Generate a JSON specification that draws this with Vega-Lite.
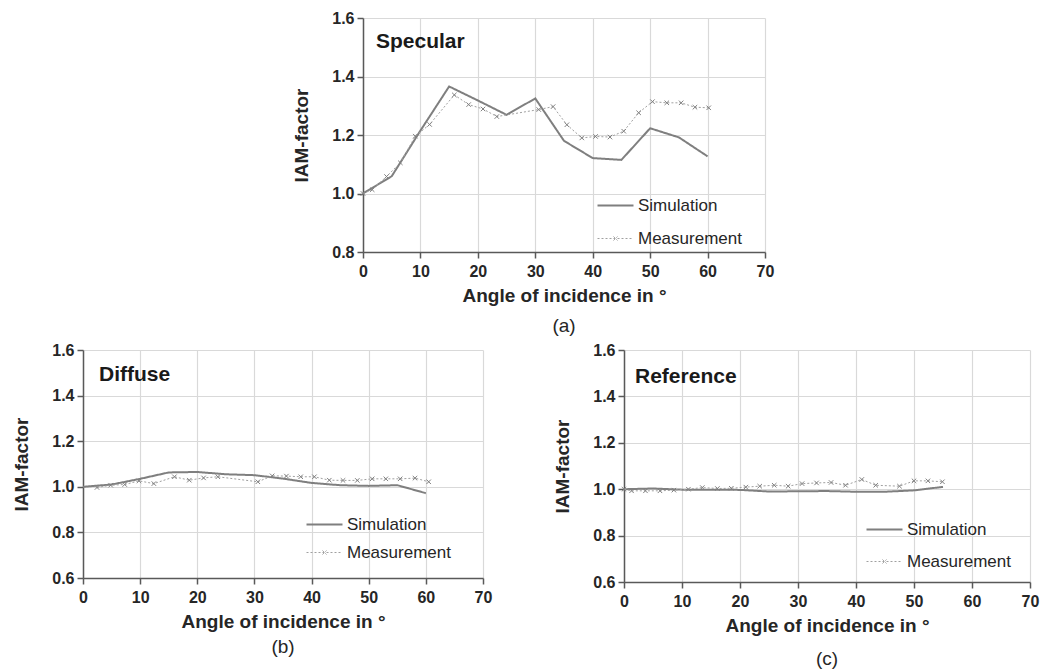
{
  "$schema": "https://vega.github.io/schema/vega-lite/v6.json",
  "background": "white",
  "padding": {"left": 12, "top": 10, "right": 2, "bottom": 2},
  "data": {"values": [
    {"panel":"a","series":"Simulation","angle":0,"iam":1.0},
    {"panel":"a","series":"Simulation","angle":5,"iam":1.059},
    {"panel":"a","series":"Simulation","angle":10,"iam":1.215},
    {"panel":"a","series":"Simulation","angle":15,"iam":1.366},
    {"panel":"a","series":"Simulation","angle":20,"iam":1.318},
    {"panel":"a","series":"Simulation","angle":25,"iam":1.269},
    {"panel":"a","series":"Simulation","angle":30,"iam":1.325},
    {"panel":"a","series":"Simulation","angle":35,"iam":1.18},
    {"panel":"a","series":"Simulation","angle":40,"iam":1.121},
    {"panel":"a","series":"Simulation","angle":45,"iam":1.115},
    {"panel":"a","series":"Simulation","angle":50,"iam":1.223},
    {"panel":"a","series":"Simulation","angle":55,"iam":1.192},
    {"panel":"a","series":"Simulation","angle":60,"iam":1.127},
    {"panel":"a","series":"Measurement","angle":0,"iam":1.0},
    {"panel":"a","series":"Measurement","angle":1.6,"iam":1.013},
    {"panel":"a","series":"Measurement","angle":4.1,"iam":1.058},
    {"panel":"a","series":"Measurement","angle":6.5,"iam":1.105},
    {"panel":"a","series":"Measurement","angle":9.1,"iam":1.196},
    {"panel":"a","series":"Measurement","angle":11.6,"iam":1.236},
    {"panel":"a","series":"Measurement","angle":15.9,"iam":1.337},
    {"panel":"a","series":"Measurement","angle":18.4,"iam":1.304},
    {"panel":"a","series":"Measurement","angle":20.9,"iam":1.289},
    {"panel":"a","series":"Measurement","angle":23.3,"iam":1.263},
    {"panel":"a","series":"Measurement","angle":30.6,"iam":1.287},
    {"panel":"a","series":"Measurement","angle":33.1,"iam":1.297},
    {"panel":"a","series":"Measurement","angle":35.5,"iam":1.235},
    {"panel":"a","series":"Measurement","angle":38.1,"iam":1.19},
    {"panel":"a","series":"Measurement","angle":40.5,"iam":1.195},
    {"panel":"a","series":"Measurement","angle":43.0,"iam":1.193},
    {"panel":"a","series":"Measurement","angle":45.4,"iam":1.213},
    {"panel":"a","series":"Measurement","angle":48.0,"iam":1.276},
    {"panel":"a","series":"Measurement","angle":50.4,"iam":1.314},
    {"panel":"a","series":"Measurement","angle":52.9,"iam":1.31},
    {"panel":"a","series":"Measurement","angle":55.4,"iam":1.31},
    {"panel":"a","series":"Measurement","angle":57.8,"iam":1.295},
    {"panel":"a","series":"Measurement","angle":60.2,"iam":1.293},
    {"panel":"b","series":"Simulation","angle":0,"iam":1.0},
    {"panel":"b","series":"Simulation","angle":5,"iam":1.01},
    {"panel":"b","series":"Simulation","angle":10,"iam":1.035},
    {"panel":"b","series":"Simulation","angle":15,"iam":1.063},
    {"panel":"b","series":"Simulation","angle":20,"iam":1.065},
    {"panel":"b","series":"Simulation","angle":25,"iam":1.055},
    {"panel":"b","series":"Simulation","angle":30,"iam":1.051},
    {"panel":"b","series":"Simulation","angle":35,"iam":1.036},
    {"panel":"b","series":"Simulation","angle":40,"iam":1.017},
    {"panel":"b","series":"Simulation","angle":45,"iam":1.007},
    {"panel":"b","series":"Simulation","angle":50,"iam":1.004},
    {"panel":"b","series":"Simulation","angle":55,"iam":1.007},
    {"panel":"b","series":"Simulation","angle":60,"iam":0.972},
    {"panel":"b","series":"Measurement","angle":2.45,"iam":0.997},
    {"panel":"b","series":"Measurement","angle":4.84,"iam":1.007},
    {"panel":"b","series":"Measurement","angle":7.3,"iam":1.01},
    {"panel":"b","series":"Measurement","angle":9.8,"iam":1.026},
    {"panel":"b","series":"Measurement","angle":12.4,"iam":1.014},
    {"panel":"b","series":"Measurement","angle":16.0,"iam":1.044},
    {"panel":"b","series":"Measurement","angle":18.6,"iam":1.029},
    {"panel":"b","series":"Measurement","angle":21.1,"iam":1.039},
    {"panel":"b","series":"Measurement","angle":23.6,"iam":1.044},
    {"panel":"b","series":"Measurement","angle":30.6,"iam":1.022},
    {"panel":"b","series":"Measurement","angle":33.1,"iam":1.048},
    {"panel":"b","series":"Measurement","angle":35.6,"iam":1.047},
    {"panel":"b","series":"Measurement","angle":38.1,"iam":1.044},
    {"panel":"b","series":"Measurement","angle":40.5,"iam":1.044},
    {"panel":"b","series":"Measurement","angle":43.1,"iam":1.029},
    {"panel":"b","series":"Measurement","angle":45.5,"iam":1.028},
    {"panel":"b","series":"Measurement","angle":48.0,"iam":1.028},
    {"panel":"b","series":"Measurement","angle":50.6,"iam":1.035},
    {"panel":"b","series":"Measurement","angle":53.0,"iam":1.035},
    {"panel":"b","series":"Measurement","angle":55.5,"iam":1.035},
    {"panel":"b","series":"Measurement","angle":58.1,"iam":1.038},
    {"panel":"b","series":"Measurement","angle":60.5,"iam":1.022},
    {"panel":"c","series":"Simulation","angle":0,"iam":1.0},
    {"panel":"c","series":"Simulation","angle":5,"iam":1.003},
    {"panel":"c","series":"Simulation","angle":10,"iam":0.998},
    {"panel":"c","series":"Simulation","angle":15,"iam":0.998},
    {"panel":"c","series":"Simulation","angle":20,"iam":0.997},
    {"panel":"c","series":"Simulation","angle":25,"iam":0.99},
    {"panel":"c","series":"Simulation","angle":30,"iam":0.991},
    {"panel":"c","series":"Simulation","angle":35,"iam":0.992},
    {"panel":"c","series":"Simulation","angle":40,"iam":0.989},
    {"panel":"c","series":"Simulation","angle":45,"iam":0.989},
    {"panel":"c","series":"Simulation","angle":50,"iam":0.995},
    {"panel":"c","series":"Simulation","angle":55,"iam":1.01},
    {"panel":"c","series":"Measurement","angle":0,"iam":1.0},
    {"panel":"c","series":"Measurement","angle":1.3,"iam":0.993},
    {"panel":"c","series":"Measurement","angle":3.7,"iam":0.993},
    {"panel":"c","series":"Measurement","angle":6.2,"iam":0.993},
    {"panel":"c","series":"Measurement","angle":8.6,"iam":0.996},
    {"panel":"c","series":"Measurement","angle":11.1,"iam":1.0},
    {"panel":"c","series":"Measurement","angle":13.5,"iam":1.007},
    {"panel":"c","series":"Measurement","angle":16.1,"iam":1.003},
    {"panel":"c","series":"Measurement","angle":18.5,"iam":1.004},
    {"panel":"c","series":"Measurement","angle":21.0,"iam":1.009},
    {"panel":"c","series":"Measurement","angle":23.4,"iam":1.013},
    {"panel":"c","series":"Measurement","angle":25.9,"iam":1.017},
    {"panel":"c","series":"Measurement","angle":28.3,"iam":1.013},
    {"panel":"c","series":"Measurement","angle":30.7,"iam":1.024},
    {"panel":"c","series":"Measurement","angle":33.2,"iam":1.027},
    {"panel":"c","series":"Measurement","angle":35.7,"iam":1.029},
    {"panel":"c","series":"Measurement","angle":38.2,"iam":1.017},
    {"panel":"c","series":"Measurement","angle":41.0,"iam":1.042},
    {"panel":"c","series":"Measurement","angle":43.4,"iam":1.017},
    {"panel":"c","series":"Measurement","angle":47.5,"iam":1.013},
    {"panel":"c","series":"Measurement","angle":50.0,"iam":1.036},
    {"panel":"c","series":"Measurement","angle":52.4,"iam":1.036},
    {"panel":"c","series":"Measurement","angle":54.9,"iam":1.032}
  ]},
  "spacing": 6,
  "resolve": {"scale": {"color": "independent", "strokeDash": "independent", "strokeWidth": "independent"}, "legend": {"color": "independent"}},
  "vconcat": [
    {
      "spacing": 0,
      "resolve": {"scale": {"color": "independent", "strokeDash": "independent", "strokeWidth": "independent"}, "legend": {"color": "independent"}},
      "hconcat": [
        {
          "width": 209, "height": 1,
          "data": {"values": []},
          "mark": {"type": "point", "opacity": 0}
        },
        {
          "width": 402, "height": 234,
          "title": {"text": "(a)", "orient": "bottom", "anchor": "middle", "frame": "group", "fontSize": 19, "fontWeight": "normal", "color": "#262626", "offset": 12},
          "transform": [{"filter": "datum.panel === 'a'"}],
          "layer": [
            {
              "mark": {"type": "line", "interpolate": "linear"},
              "encoding": {
                "x": {"field": "angle", "type": "quantitative", "scale": {"domain": [0, 70], "nice": false}, "axis": {"values": [0,10,20,30,40,50,60,70], "title": "Angle of incidence in °", "labelFlush": false}},
                "y": {"field": "iam", "type": "quantitative", "scale": {"domain": [0.8, 1.6], "nice": false, "zero": false}, "axis": {"values": [0.8,1.0,1.2,1.4,1.6], "format": ".1f", "title": "IAM-factor", "labelFlush": false}},
                "color": {"field": "series", "type": "nominal", "scale": {"domain": ["Simulation", "Measurement"], "range": ["#7f7f7f", "#a0a0a0"]},
                  "legend": {"title": null, "orient": "none", "legendX": 244, "legendY": 179, "rowPadding": 15, "symbolType": "M-3.6,0L3.6,0", "symbolSize": 100, "symbolStrokeWidth": 2, "labelOffset": 14, "padding": 0,
                    "encode": {"symbols": {"update": {
                      "shape": {"signal": "datum.value === 'Measurement' ? 'M-3.6,0L3.6,0M-0.4,-0.4L0.4,0.4M-0.4,0.4L0.4,-0.4' : 'M-3.6,0L3.6,0'"},
                      "strokeDash": {"signal": "datum.value === 'Measurement' ? [2,2] : [1,0]"},
                      "strokeWidth": {"signal": "datum.value === 'Measurement' ? 1 : 2"}}}}}},
                "strokeDash": {"field": "series", "type": "nominal", "scale": {"domain": ["Simulation", "Measurement"], "range": [[1,0],[2,2]]}, "legend": null},
                "strokeWidth": {"field": "series", "type": "nominal", "scale": {"domain": ["Simulation", "Measurement"], "range": [2, 1]}, "legend": null}
              }
            },
            {
              "transform": [{"filter": "datum.series === 'Measurement'"}],
              "mark": {"type": "point", "shape": "M-1,-1L1,1M-1,1L1,-1", "filled": false, "stroke": "#808080", "strokeWidth": 1, "size": 20, "opacity": 1},
              "encoding": {
                "x": {"field": "angle", "type": "quantitative"},
                "y": {"field": "iam", "type": "quantitative"}
              }
            },
            {
              "data": {"values": [{"label": "Specular"}]},
              "mark": {"type": "text", "align": "left", "baseline": "middle", "fontSize": 21, "fontWeight": "bold", "color": "#1a1a1a"},
              "encoding": {"x": {"datum": 2.26}, "y": {"datum": 1.518}, "text": {"field": "label"}}
            }
          ]
        }
      ]
    },
    {
      "spacing": 61,
      "resolve": {"scale": {"color": "independent", "strokeDash": "independent", "strokeWidth": "independent"}, "legend": {"color": "independent"}},
      "hconcat": [
        {
          "width": 400, "height": 228,
          "title": {"text": "(b)", "orient": "bottom", "anchor": "middle", "frame": "group", "fontSize": 19, "fontWeight": "normal", "color": "#262626", "offset": 7},
          "transform": [{"filter": "datum.panel === 'b'"}],
          "layer": [
            {
              "mark": {"type": "line", "interpolate": "linear"},
              "encoding": {
                "x": {"field": "angle", "type": "quantitative", "scale": {"domain": [0, 70], "nice": false}, "axis": {"values": [0,10,20,30,40,50,60,70], "title": "Angle of incidence in °", "labelFlush": false}},
                "y": {"field": "iam", "type": "quantitative", "scale": {"domain": [0.6, 1.6], "nice": false, "zero": false}, "axis": {"values": [0.6,0.8,1.0,1.2,1.4,1.6], "format": ".1f", "title": "IAM-factor", "labelFlush": false}},
                "color": {"field": "series", "type": "nominal", "scale": {"domain": ["Simulation", "Measurement"], "range": ["#7f7f7f", "#a0a0a0"]},
                  "legend": {"title": null, "orient": "none", "legendX": 233, "legendY": 166, "rowPadding": 10, "symbolType": "M-3.6,0L3.6,0", "symbolSize": 100, "symbolStrokeWidth": 2, "labelOffset": 14, "padding": 0,
                    "encode": {"symbols": {"update": {
                      "shape": {"signal": "datum.value === 'Measurement' ? 'M-3.6,0L3.6,0M-0.4,-0.4L0.4,0.4M-0.4,0.4L0.4,-0.4' : 'M-3.6,0L3.6,0'"},
                      "strokeDash": {"signal": "datum.value === 'Measurement' ? [2,2] : [1,0]"},
                      "strokeWidth": {"signal": "datum.value === 'Measurement' ? 1 : 2"}}}}}},
                "strokeDash": {"field": "series", "type": "nominal", "scale": {"domain": ["Simulation", "Measurement"], "range": [[1,0],[2,2]]}, "legend": null},
                "strokeWidth": {"field": "series", "type": "nominal", "scale": {"domain": ["Simulation", "Measurement"], "range": [2, 1]}, "legend": null}
              }
            },
            {
              "transform": [{"filter": "datum.series === 'Measurement'"}],
              "mark": {"type": "point", "shape": "M-1,-1L1,1M-1,1L1,-1", "filled": false, "stroke": "#808080", "strokeWidth": 1, "size": 20, "opacity": 1},
              "encoding": {
                "x": {"field": "angle", "type": "quantitative"},
                "y": {"field": "iam", "type": "quantitative"}
              }
            },
            {
              "data": {"values": [{"label": "Diffuse"}]},
              "mark": {"type": "text", "align": "left", "baseline": "middle", "fontSize": 21, "fontWeight": "bold", "color": "#1a1a1a"},
              "encoding": {"x": {"datum": 2.8}, "y": {"datum": 1.49}, "text": {"field": "label"}}
            }
          ]
        },
        {
          "width": 406, "height": 232,
          "title": {"text": "(c)", "orient": "bottom", "anchor": "middle", "frame": "group", "fontSize": 19, "fontWeight": "normal", "color": "#262626", "offset": 15},
          "transform": [{"filter": "datum.panel === 'c'"}],
          "layer": [
            {
              "mark": {"type": "line", "interpolate": "linear"},
              "encoding": {
                "x": {"field": "angle", "type": "quantitative", "scale": {"domain": [0, 70], "nice": false}, "axis": {"values": [0,10,20,30,40,50,60,70], "title": "Angle of incidence in °", "labelFlush": false}},
                "y": {"field": "iam", "type": "quantitative", "scale": {"domain": [0.6, 1.6], "nice": false, "zero": false}, "axis": {"values": [0.6,0.8,1.0,1.2,1.4,1.6], "format": ".1f", "title": "IAM-factor", "labelFlush": false}},
                "color": {"field": "series", "type": "nominal", "scale": {"domain": ["Simulation", "Measurement"], "range": ["#7f7f7f", "#a0a0a0"]},
                  "legend": {"title": null, "orient": "none", "legendX": 252, "legendY": 171, "rowPadding": 14, "symbolType": "M-3.6,0L3.6,0", "symbolSize": 100, "symbolStrokeWidth": 2, "labelOffset": 14, "padding": 0,
                    "encode": {"symbols": {"update": {
                      "shape": {"signal": "datum.value === 'Measurement' ? 'M-3.6,0L3.6,0M-0.4,-0.4L0.4,0.4M-0.4,0.4L0.4,-0.4' : 'M-3.6,0L3.6,0'"},
                      "strokeDash": {"signal": "datum.value === 'Measurement' ? [2,2] : [1,0]"},
                      "strokeWidth": {"signal": "datum.value === 'Measurement' ? 1 : 2"}}}}}},
                "strokeDash": {"field": "series", "type": "nominal", "scale": {"domain": ["Simulation", "Measurement"], "range": [[1,0],[2,2]]}, "legend": null},
                "strokeWidth": {"field": "series", "type": "nominal", "scale": {"domain": ["Simulation", "Measurement"], "range": [2, 1]}, "legend": null}
              }
            },
            {
              "transform": [{"filter": "datum.series === 'Measurement'"}],
              "mark": {"type": "point", "shape": "M-1,-1L1,1M-1,1L1,-1", "filled": false, "stroke": "#808080", "strokeWidth": 1, "size": 20, "opacity": 1},
              "encoding": {
                "x": {"field": "angle", "type": "quantitative"},
                "y": {"field": "iam", "type": "quantitative"}
              }
            },
            {
              "data": {"values": [{"label": "Reference"}]},
              "mark": {"type": "text", "align": "left", "baseline": "middle", "fontSize": 21, "fontWeight": "bold", "color": "#1a1a1a"},
              "encoding": {"x": {"datum": 1.9}, "y": {"datum": 1.484}, "text": {"field": "label"}}
            }
          ]
        }
      ]
    }
  ],
  "config": {
    "font": "Liberation Sans",
    "view": {"stroke": null},
    "axis": {
      "domainColor": "#595959", "domainWidth": 1.5, "tickColor": "#595959", "tickWidth": 1.5, "tickSize": 6,
      "gridColor": "#d9d9d9", "gridWidth": 1.2,
      "labelFont": "Liberation Sans", "labelFontSize": 16, "labelFontWeight": "bold", "labelColor": "#262626",
      "titleFont": "Liberation Sans", "titleFontSize": 19, "titleFontWeight": "bold", "titleColor": "#262626"
    },
    "axisX": {"titlePadding": 7, "labelPadding": 5},
    "axisY": {"titlePadding": 20, "labelPadding": 3},
    "legend": {"labelFont": "Liberation Sans", "labelFontSize": 17, "labelColor": "#262626", "labelFontWeight": "normal"},
    "title": {"font": "Liberation Sans"}
  }
}
